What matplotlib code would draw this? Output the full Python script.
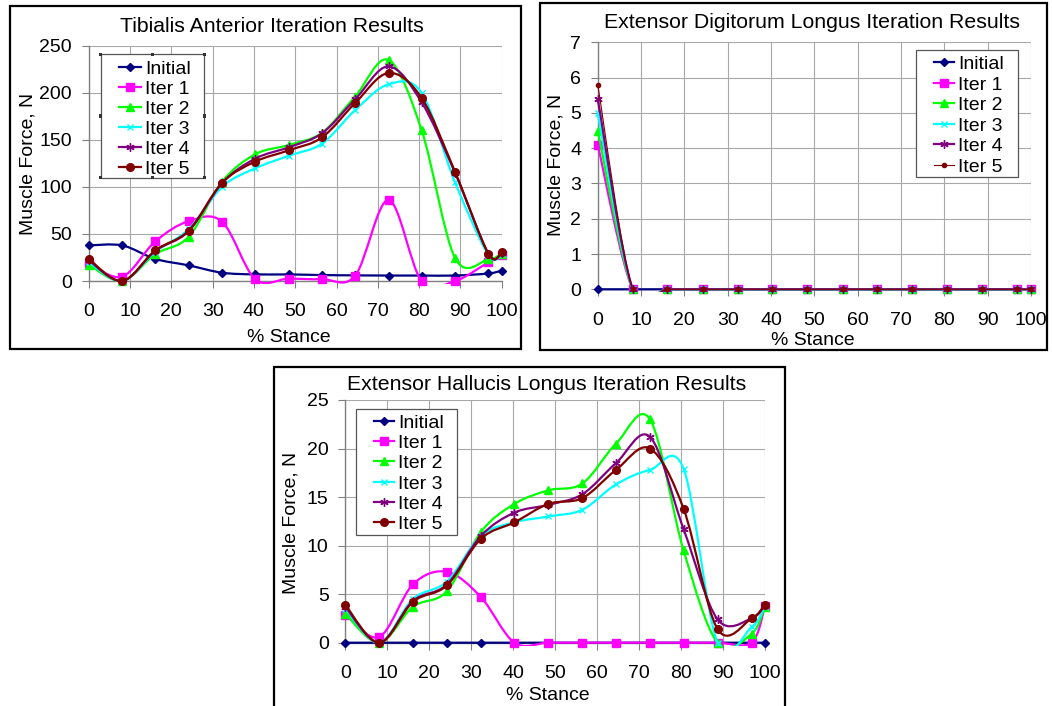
import matplotlib
matplotlib.use('Agg')
import matplotlib.pyplot as plt
from matplotlib.path import Path
from matplotlib.patches import PathPatch, Rectangle
from matplotlib.lines import Line2D

plt.rcParams['font.family'] = ['Liberation Sans', 'DejaVu Sans']

# % stance sample points
stance = [0, 8.1, 16.1, 24.2, 32.3, 40.3, 48.4, 56.5, 64.5, 72.6, 80.6, 88.7, 96.8, 100]
names = ['Initial', 'Iter 1', 'Iter 2', 'Iter 3', 'Iter 4', 'Iter 5']

# Tibialis Anterior
ta_initial = [37.8, 37.8, 23.5, 16.6, 8.8, 7.0, 7.0, 6.3, 6.0, 5.8, 5.8, 5.8, 8.0, 11.0]
ta_iter1 = [19.0, 4.6, 42.0, 63.6, 63.0, 2.0, 2.5, 2.0, 5.5, 86.0, 0.0, 0.0, 20.0, 28.0]
ta_iter2 = [17.5, 0.0, 28.5, 47.0, 105.5, 134.6, 144.5, 157.5, 196.0, 234.8, 160.5, 24.5, 23.0, 29.0]
ta_iter3 = [20.0, 0.0, 31.0, 55.0, 100.0, 119.7, 133.0, 146.0, 181.5, 209.0, 200.0, 104.8, 27.5, 29.0]
ta_iter4 = [22.0, 0.0, 32.0, 53.0, 104.0, 130.0, 142.0, 157.0, 193.0, 228.0, 190.0, 115.0, 29.0, 30.0]
ta_iter5 = [23.5, 0.0, 32.5, 53.5, 104.3, 126.8, 138.8, 152.6, 189.0, 221.0, 194.5, 116.0, 28.8, 30.8]

# Extensor Digitorum Longus
edl_initial = [0, 0, 0, 0, 0, 0, 0, 0, 0, 0, 0, 0, 0, 0]
edl_iter1 = [4.1, 0, 0, 0, 0, 0, 0, 0, 0, 0, 0, 0, 0, 0]
edl_iter2 = [4.5, 0, 0, 0, 0, 0, 0, 0, 0, 0, 0, 0, 0, 0]
edl_iter3 = [5.0, 0, 0, 0, 0, 0, 0, 0, 0, 0, 0, 0, 0, 0]
edl_iter4 = [5.4, 0, 0, 0, 0, 0, 0, 0, 0, 0, 0, 0, 0, 0]
edl_iter5 = [5.8, 0, 0, 0, 0, 0, 0, 0, 0, 0, 0, 0, 0, 0]

# Extensor Hallucis Longus
ehl_initial = [0, 0, 0, 0, 0, 0, 0, 0, 0, 0, 0, 0, 0, 0]
ehl_iter1 = [2.9, 0.6, 6.0, 7.3, 4.7, 0, 0, 0, 0, 0, 0, 0, 0, 3.8]
ehl_iter2 = [3.0, 0, 3.7, 5.3, 11.4, 14.3, 15.7, 16.4, 20.5, 23.0, 9.5, 0, 0.9, 3.7]
ehl_iter3 = [3.5, 0, 4.5, 6.3, 11.0, 12.4, 13.0, 13.7, 16.3, 17.8, 17.9, 0, 1.6, 3.7]
ehl_iter4 = [3.7, 0, 4.3, 6.0, 11.0, 13.4, 14.2, 15.3, 18.5, 21.2, 11.7, 2.4, 2.5, 3.9]
ehl_iter5 = [3.9, 0, 4.2, 5.9, 10.7, 12.4, 14.3, 14.9, 17.8, 20.0, 13.8, 1.4, 2.5, 3.9]

colors = ['#000080', '#ff00ff', '#00ff00', '#00ffff', '#800080', '#800000']
markers = ['D', 's', '^', 'x', (6, 2, 0), 'o']
msizes = [4, 5.5, 6, 5, 6, 5.5]

W, H = 1052, 706


def fx(px):
    return px / W


def fy(py):
    return 1 - py / H


def smooth_path(x, y):
    # excel style smoothed line: cubic bezier through the points
    pts = list(zip(x, y))
    n = len(pts)
    verts = [pts[0]]
    codes = [Path.MOVETO]
    for i in range(n - 1):
        p0 = pts[max(i - 1, 0)]
        p1 = pts[i]
        p2 = pts[i + 1]
        p3 = pts[min(i + 2, n - 1)]
        c1 = (p1[0] + (p2[0] - p0[0]) / 6, p1[1] + (p2[1] - p0[1]) / 6)
        c2 = (p2[0] - (p3[0] - p1[0]) / 6, p2[1] - (p3[1] - p1[1]) / 6)
        verts += [c1, c2, p2]
        codes += [Path.CURVE4] * 3
    return Path(verts, codes)


def panel(fig, rect_px, series, ymax, ystep, small_last=False):
    x0, x1, ytop, ybot = rect_px
    ax = fig.add_axes([fx(x0), fy(ybot), fx(x1) - fx(x0), (ybot - ytop) / H])
    ax.set_xlim(0, 100)
    ax.set_ylim(0, ymax)
    ax.set_xticks(range(0, 101, 10))
    ax.set_yticks([v for v in range(0, ymax + 1, ystep)])
    ax.grid(True, color='#a8a8a8', lw=0.8)
    ax.set_axisbelow(True)
    for s in ['top', 'right']:
        ax.spines[s].set_visible(False)
    for s in ['left', 'bottom']:
        ax.spines[s].set_color('#808080')
        ax.spines[s].set_linewidth(1.0)
    ax.tick_params(axis='both', direction='out', length=5, width=0.8, color='#808080',
                   labelsize=14, labelcolor='black')
    ax.tick_params(axis='x', pad=11)
    ax.tick_params(axis='y', pad=7)
    clip = Rectangle((-0.01, -0.012), 1.02, 1.03, transform=ax.transAxes)
    handles = []
    for i, y in enumerate(series):
        lw = 1.6
        ms = msizes[i]
        if small_last and i == 5:
            lw = 0.8
            ms = 3
        patch = PathPatch(smooth_path(stance, y), fill=False, ec=colors[i], lw=lw, zorder=3 + i)
        ax.add_patch(patch)
        patch.set_clip_path(clip)
        ax.plot(stance, y, ls='none', marker=markers[i], ms=ms, color=colors[i], mec=colors[i],
                mew=1.0, zorder=3.5 + i, clip_on=False)
        handles.append(Line2D([], [], color=colors[i], lw=lw, marker=markers[i], ms=ms, mew=1.0))
    return ax, handles


def legend_box(fig, handles, frame_px, anchor_px, hlen, spacing, sel_handles=False):
    l, r, t, b = frame_px
    fig.patches.append(Rectangle((fx(l), fy(b)), (r - l) / W, (b - t) / H, transform=fig.transFigure,
                                 fc='white', ec='#555555', lw=0.9, zorder=2))
    if sel_handles:
        xs = [l, (l + r) / 2, r]
        ys = [t, (t + b) / 2, b]
        for xx in xs:
            for yy in ys:
                if xx == (l + r) / 2 and yy == (t + b) / 2:
                    continue
                fig.patches.append(Rectangle((fx(xx - 1.5), fy(yy + 1.5)), 3 / W, 3 / H,
                                             transform=fig.transFigure, fc='#333333', ec='none', zorder=2.5))
    fig.legend(handles, names, loc='upper left', bbox_to_anchor=(fx(anchor_px[0]), fy(anchor_px[1])),
               frameon=False, borderpad=0, borderaxespad=0, handlelength=hlen, handletextpad=0.2,
               labelspacing=spacing, fontsize=14)


fig = plt.figure(figsize=(W / 100, H / 100), dpi=100)

# outer panel boxes
for l, t, r, b in [(10, 6, 521, 349), (540, 3, 1047, 350), (274, 367, 785, 712)]:
    fig.patches.append(Rectangle((fx(l), fy(b)), (r - l) / W, (b - t) / H, transform=fig.transFigure,
                                 fill=False, ec='black', lw=1.6, zorder=1))

# Tibialis Anterior
ax1, h1 = panel(fig, (88.7, 501.7, 45.7, 281), [ta_initial, ta_iter1, ta_iter2, ta_iter3, ta_iter4, ta_iter5], 250, 50)
legend_box(fig, h1, (100.7, 204, 54.3, 177.7), (119, 60.5), 1.15, 0.12, sel_handles=True)
fig.text(fx(272), fy(27), 'Tibialis Anterior Iteration Results', ha='center', va='center', fontsize=15.3)
fig.text(fx(289), fy(338), '% Stance', ha='center', va='center', fontsize=14)
fig.text(fx(28), fy(164), 'Muscle Force, N', ha='center', va='center', rotation=90, fontsize=14)

# Extensor Digitorum Longus
ax2, h2 = panel(fig, (597.7, 1031, 42.3, 289.3), [edl_initial, edl_iter1, edl_iter2, edl_iter3, edl_iter4, edl_iter5], 7, 1, small_last=True)
legend_box(fig, h2, (915.7, 1018.3, 50, 176.7), (934, 55.5), 1.05, 0.15)
fig.text(fx(812), fy(23), 'Extensor Digitorum Longus Iteration Results', ha='center', va='center', fontsize=15.3)
fig.text(fx(813), fy(340), '% Stance', ha='center', va='center', fontsize=14)
fig.text(fx(556), fy(165), 'Muscle Force, N', ha='center', va='center', rotation=90, fontsize=14)

# Extensor Hallucis Longus
ax3, h3 = panel(fig, (345.3, 765, 400, 642.7), [ehl_initial, ehl_iter1, ehl_iter2, ehl_iter3, ehl_iter4, ehl_iter5], 25, 5)
legend_box(fig, h3, (356, 457.3, 408.7, 535), (374, 414), 1.05, 0.14)
fig.text(fx(547), fy(385), 'Extensor Hallucis Longus Iteration Results', ha='center', va='center', fontsize=15.3)
fig.text(fx(548), fy(696), '% Stance', ha='center', va='center', fontsize=14)
fig.text(fx(291), fy(523), 'Muscle Force, N', ha='center', va='center', rotation=90, fontsize=14)

fig.savefig('out.png', dpi=100)
